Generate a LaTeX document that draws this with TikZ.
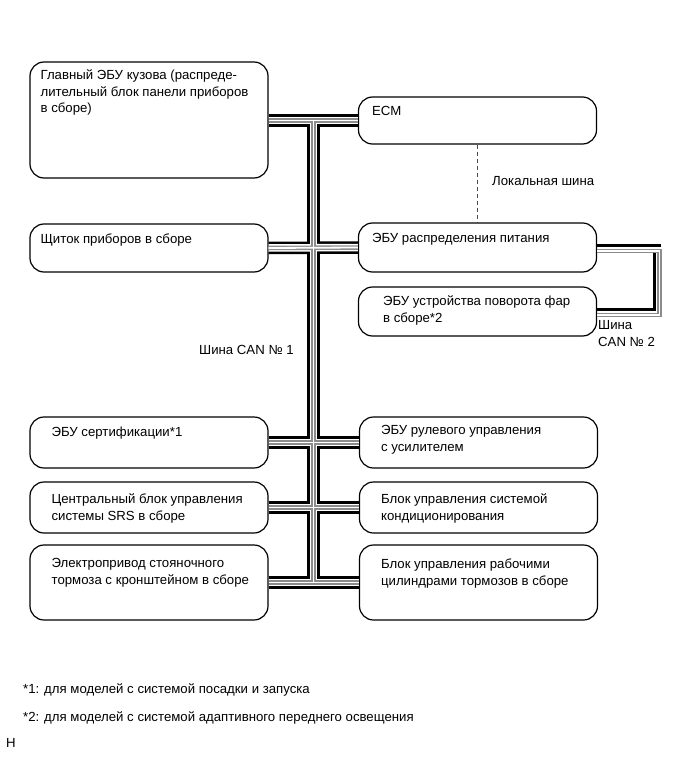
\documentclass[tikz,border=0pt]{standalone}
\usepackage{fontspec}
\setmainfont{Liberation Sans}
\usetikzlibrary{positioning,calc}

\begin{document}
\begin{tikzpicture}[
  x=1pt,y=-1pt,
  every node/.style={font=\fontsize{13.2}{16.8}\selectfont},
  unit/.style={draw,rounded corners=14pt,line width=1.2pt,minimum width=238pt,inner sep=0pt},
  txt/.style={inner sep=0pt,align=left,anchor=north west},
  canblack/.style={line width=12.5pt,black},
  canwhite/.style={line width=7.5pt,white},
  cangray/.style={line width=4.5pt,black!45},
  cancore/.style={line width=1.8pt,white},
]
  \useasboundingbox (0,0) rectangle (691,757);

  % ECUs
  \node[unit,minimum height=116pt] (glav) at (149,120) {};
  \node[unit,minimum height=47pt] (ecm) at (477.5,120.5) {};
  \node[unit,minimum height=48pt] (shch) at (149,248) {};
  \node[unit,minimum height=49pt] (dist) at (477.5,247.5) {};
  \node[unit,minimum height=49pt] (swiv) at (477.5,311.5) {};
  \node[unit,minimum height=51pt] (cert) at (149,442.5) {};
  \node[unit,minimum height=51pt] (eps) at (478.5,442.5) {};
  \node[unit,minimum height=51pt] (srs) at (149,507.5) {};
  \node[unit,minimum height=51pt] (ac) at (478.5,507.5) {};
  \node[unit,minimum height=75pt] (epb) at (149,582.5) {};
  \node[unit,minimum height=75pt] (brake) at (478.5,582.5) {};

  % texts
  \node[txt,below right=8pt and 11pt of glav.north west]
    {Главный ЭБУ кузова (распреде-\\лительный блок панели приборов\\в сборе)};
  \node[txt,below right=10pt and 14pt of ecm.north west] {ECM};
  \node[txt,below right=10pt and 11pt of shch.north west] {Щиток приборов в сборе};
  \node[txt,below right=11pt and 14pt of dist.north west] {ЭБУ распределения питания};
  \node[txt,below right=9pt and 25pt of swiv.north west] {ЭБУ устройства поворота фар\\в сборе*2};
  \node[txt,below right=10pt and 22pt of cert.north west] {ЭБУ сертификации*1};
  \node[txt,below right=9pt and 22pt of eps.north west] {ЭБУ рулевого управления\\с усилителем};
  \node[txt,below right=12pt and 22pt of srs.north west] {Центральный блок управления\\системы SRS в сборе};
  \node[txt,below right=12pt and 22pt of ac.north west] {Блок управления системой\\кондиционирования};
  \node[txt,below right=14pt and 22pt of epb.north west] {Электропривод стояночного\\тормоза с кронштейном в сборе};
  \node[txt,below right=14pt and 22pt of brake.north west] {Блок управления рабочими\\цилиндрами тормозов в сборе};

  % CAN No. 1
  \coordinate (bustop) at (313.5,120.5);
  \coordinate (busbot) at (313.5,582.5);
  \foreach \layer in {canblack,canwhite,cangray,cancore}{
    \draw[\layer] (bustop) -- (busbot);
    \draw[\layer] (glav.east |- bustop) -- (ecm.west);
    \draw[\layer] (shch.east) -- (dist.west);
    \draw[\layer] (cert.east) -- (eps.west);
    \draw[\layer] (srs.east) -- (ac.west);
    \draw[\layer] (epb.east) -- (brake.west);
  }

  % CAN No. 2
  \coordinate (can2in) at (654,253);
  \coordinate (can2out) at (659.5,280);
  \draw[line width=3pt] ($(dist.east)+(0,-2.5)$) -- ++(64,0);
  \draw[line width=3pt] ($(swiv.east)+(0,-2.5)$) -| (can2in);
  \draw[line width=4.5pt,black!45] ($(dist.east)+(0,3.5)$) -| (can2out) |- ($(swiv.east)+(0,3.5)$);
  \draw[line width=1.8pt,white] ($(dist.east)+(0,3.5)$) -| (can2out) |- ($(swiv.east)+(0,3.5)$);

  % local bus
  \draw[black!70,line width=0.8pt,dash pattern=on 4pt off 3pt] (ecm) -- (dist);

  % labels
  \node[anchor=west,inner sep=0pt] (lin) at (492,181) {Локальная шина};
  \node[anchor=west,inner sep=0pt] (can1) at (199,350) {Шина CAN № 1};
  \node[txt] (can2) at (598,320) {Шина\\CAN № 2};
  \node[anchor=west,inner sep=0pt] (fn1) at (23,690) {*1: для моделей с системой посадки и запуска};
  \node[anchor=west,inner sep=0pt] (fn2) at (23,718) {*2: для моделей с системой адаптивного переднего освещения};
  \node[anchor=west,inner sep=0pt] (mark) at (6,743) {H};
\end{tikzpicture}
\end{document}
